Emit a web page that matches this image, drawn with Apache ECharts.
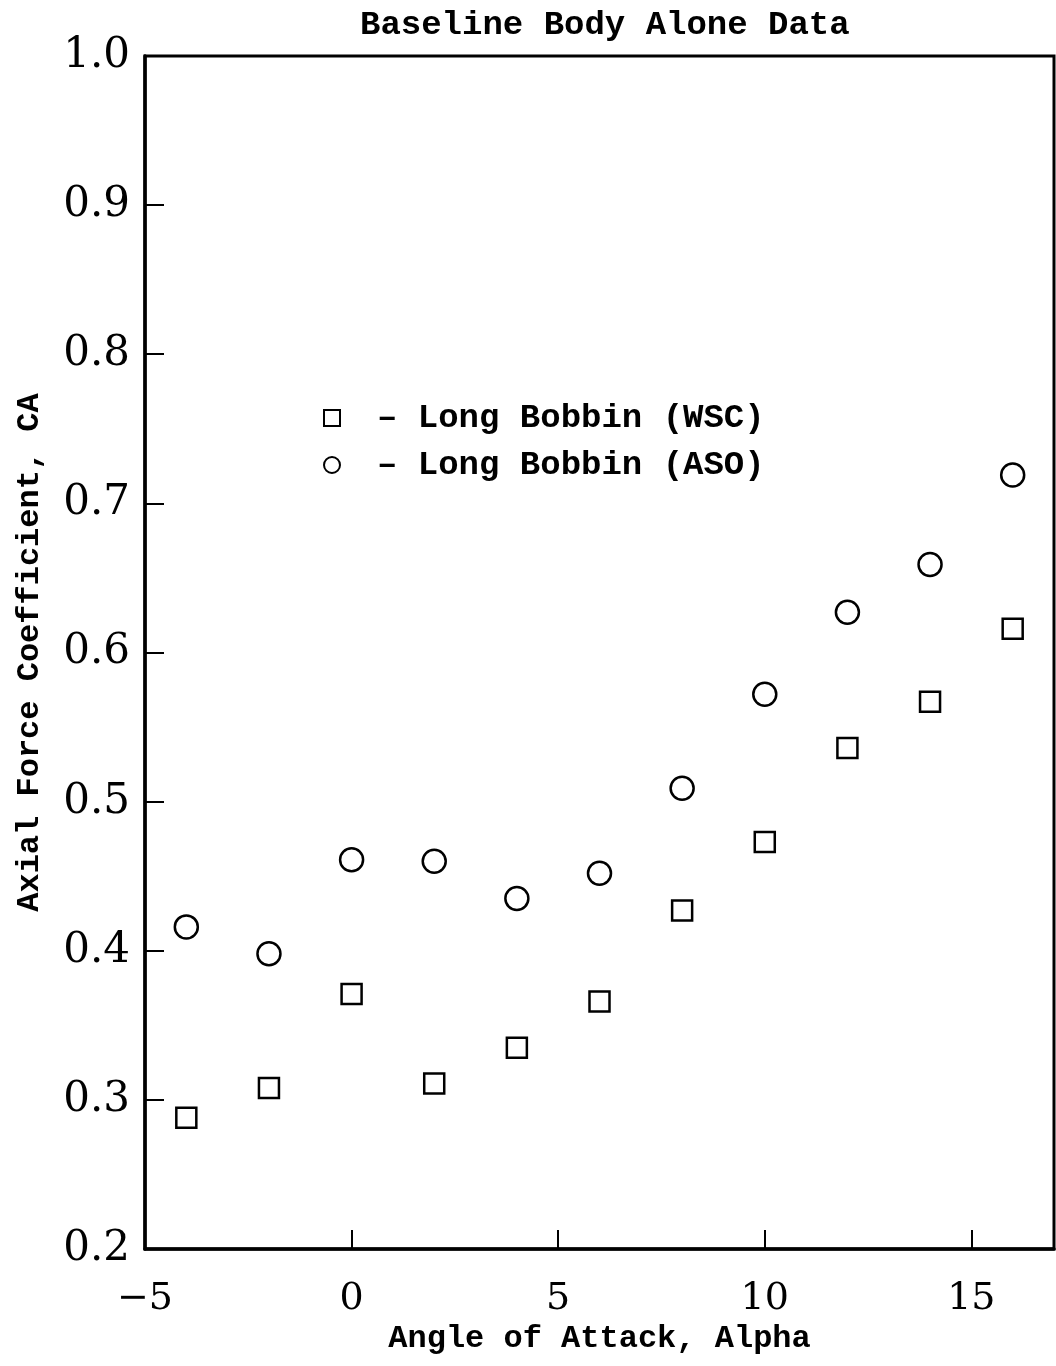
<!DOCTYPE html>
<html>
<head>
<meta charset="utf-8">
<title>Baseline Body Alone Data</title>
<script src="https://cdn.jsdelivr.net/npm/echarts@6/dist/echarts.min.js"></script>
<style>
  html, body { margin: 0; padding: 0; background: #fff; }
  #chart { width: 1056px; height: 1366px; }
</style>
</head>
<body>
<div id="chart"></div>
<script>
// Angle of attack (deg) for each run
const alpha = [-4, -2, 0, 2, 4, 6, 8, 10, 12, 14, 16];
// Axial force coefficient, Long Bobbin (WSC)
const caWSC = [0.288, 0.308, 0.371, 0.311, 0.335, 0.366, 0.427, 0.473, 0.536, 0.567, 0.616];
// Axial force coefficient, Long Bobbin (ASO)
const caASO = [0.416, 0.398, 0.461, 0.460, 0.435, 0.452, 0.509, 0.572, 0.627, 0.659, 0.719];
// Tick values on the alpha axis
const xTicks = [-5, 0, 5, 10, 15];

const seriesNames = ['Long Bobbin (WSC)', 'Long Bobbin (ASO)'];

const monoFont = '"Liberation Mono", "DejaVu Sans Mono", monospace';
const numFont = '"DejaVu Serif", "Liberation Serif", serif';
const ink = '#000';

const pairs = (xs, ys) => xs.map((x, i) => [x, ys[i]]);

const chart = echarts.init(document.getElementById('chart'), null, { renderer: 'canvas' });

chart.setOption({
  backgroundColor: '#fff',
  animation: false,
  title: {
    text: 'Baseline Body Alone Data',
    left: 360,
    top: 8,
    padding: 0,
    textStyle: { fontFamily: monoFont, fontWeight: 'bold', fontSize: 34, color: ink }
  },
  legend: {
    orient: 'vertical',
    left: 323,
    top: 401,
    padding: 0,
    itemWidth: 16,
    itemHeight: 16,
    itemGap: 13,
    data: [
      { name: seriesNames[0], icon: 'rect' },
      { name: seriesNames[1], icon: 'circle' }
    ],
    itemStyle: { color: '#fff', borderColor: ink, borderWidth: 2 },
    formatter: name => '{t|\u2013 ' + name + '}',
    textStyle: {
      fontFamily: monoFont, fontWeight: 'bold', fontSize: 34, color: ink, lineHeight: 34,
      rich: {
        t: { fontFamily: monoFont, fontWeight: 'bold', fontSize: 34, color: ink, lineHeight: 34, padding: [0, 0, 0, 32] }
      }
    },
    selectedMode: false
  },
  grid: {
    left: 145,
    right: 2,
    top: 56,
    bottom: 117,
    outerBoundsMode: 'none',
    containLabel: false,
    show: true,
    borderColor: ink,
    borderWidth: 3,
    backgroundColor: 'transparent'
  },
  xAxis: {
    type: 'value',
    min: -5,
    max: 17,
    interval: 5,
    name: 'Angle of Attack, Alpha',
    nameLocation: 'middle',
    nameGap: 62,
    nameTextStyle: { fontFamily: monoFont, fontWeight: 'bold', fontSize: 32, color: ink },
    axisLine: { show: true, onZero: false, lineStyle: { color: ink, width: 3.5 } },
    axisTick: { show: true, inside: true, length: 19, customValues: xTicks, lineStyle: { color: ink, width: 2 } },
    axisLabel: {
      customValues: xTicks,
      margin: 31,
      fontFamily: numFont,
      fontSize: 38,
      color: ink,
      formatter: v => (v < 0 ? '\u2212' + Math.abs(v) : String(v))
    },
    splitLine: { show: false }
  },
  yAxis: {
    type: 'value',
    min: 0.2,
    max: 1.0,
    interval: 0.1,
    name: 'Axial Force Coefficient, CA',
    nameLocation: 'middle',
    nameGap: 99,
    nameRotate: 90,
    nameTextStyle: { fontFamily: monoFont, fontWeight: 'bold', fontSize: 32, color: ink },
    axisLine: { show: true, onZero: false, lineStyle: { color: ink, width: 3.5 } },
    axisTick: { show: true, inside: true, length: 19, lineStyle: { color: ink, width: 2 } },
    axisLabel: {
      margin: 15,
      fontFamily: numFont,
      fontSize: 42,
      color: ink,
      formatter: v => v.toFixed(1)
    },
    splitLine: { show: false }
  },
  series: [
    {
      name: seriesNames[0],
      type: 'scatter',
      symbol: 'rect',
      symbolSize: 20,
      data: pairs(alpha, caWSC),
      itemStyle: { color: '#fff', borderColor: ink, borderWidth: 2.5, opacity: 1 },
      emphasis: { disabled: true }
    },
    {
      name: seriesNames[1],
      type: 'scatter',
      symbol: 'circle',
      symbolSize: 23,
      data: pairs(alpha, caASO),
      itemStyle: { color: '#fff', borderColor: ink, borderWidth: 2.5, opacity: 1 },
      emphasis: { disabled: true }
    }
  ]
});
</script>
</body>
</html>
